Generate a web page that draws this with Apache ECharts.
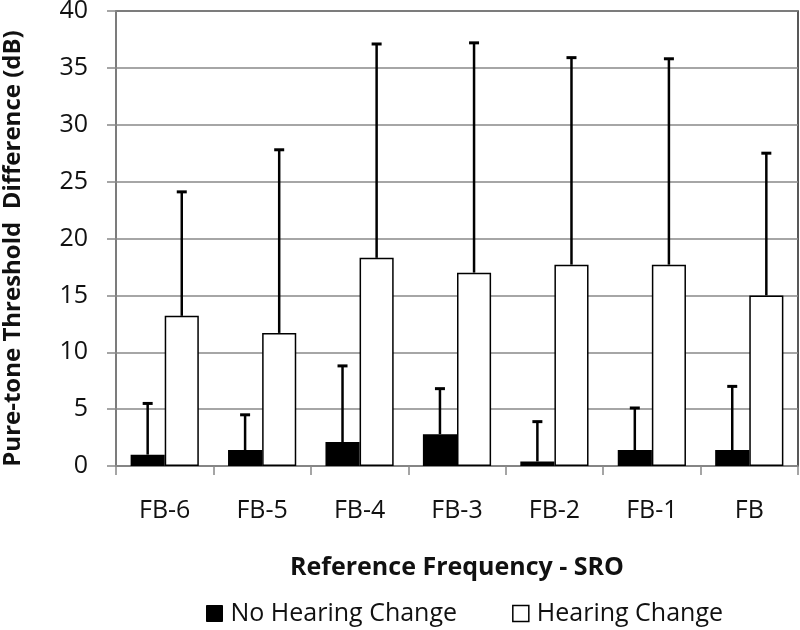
<!DOCTYPE html>
<html>
<head>
<meta charset="utf-8">
<script src="https://cdn.jsdelivr.net/npm/echarts@6/dist/echarts.min.js"></script>
<style>html,body{margin:0;padding:0;background:#fff}#c{width:800px;height:630px}</style>
</head>
<body>
<div id="c"></div>
<script>
const categories = ['FB-6','FB-5','FB-4','FB-3','FB-2','FB-1','FB'];
const noChange = [1.0, 1.4, 2.1, 2.8, 0.4, 1.4, 1.4];
const noChangeErrTop = [5.5, 4.5, 8.8, 6.8, 3.9, 5.1, 7.0];
const change = [13.2, 11.7, 18.3, 17.0, 17.7, 17.7, 15.0];
const changeErrTop = [24.1, 27.8, 37.1, 37.2, 35.9, 35.8, 27.5];
const yTicks = [0,5,10,15,20,25,30,35,40];

const FONT = '"Open Sans"';
const chart = echarts.init(document.getElementById('c'));

function errSeries(name, vals, tops, side) {
  return {
    type: 'custom',
    name: name + ' err',
    z: 5,
    silent: true,
    data: vals.map((v, i) => [i, v, tops[i]]),
    renderItem: function (params, api) {
      const i = api.value(0);
      const catW = api.size([1, 0])[0];
      const off = side * 0.175 * catW;
      const p0 = api.coord([i, api.value(1)]);
      const p1 = api.coord([i, api.value(2)]);
      const x = p0[0] + off;
      const capHalf = 5;
      return {
        type: 'group',
        children: [
          { type: 'line', shape: { x1: x, y1: p0[1], x2: x, y2: p1[1] }, style: { stroke: '#000', lineWidth: 2.5 } },
          { type: 'line', shape: { x1: x - capHalf, y1: p1[1], x2: x + capHalf, y2: p1[1] }, style: { stroke: '#000', lineWidth: 3 } }
        ]
      };
    }
  };
}

chart.setOption({
  animation: false,
  backgroundColor: '#fff',
  grid: { left: 116, right: 2, top: 11, bottom: 164, show: true, borderColor: '#222', borderWidth: 1.5,
    containLabel: false, outerBoundsMode: 'none' },
  xAxis: {
    type: 'category',
    data: categories,
    axisLine: { lineStyle: { color: '#888', width: 1.5 } },
    axisTick: { show: true, length: 9, lineStyle: { color: '#888', width: 1.5 } },
    axisLabel: { fontFamily: FONT, fontSize: 25, color: '#111', margin: 32 },
    name: 'Reference Frequency - SRO',
    nameLocation: 'middle',
    nameGap: 89,
    nameTextStyle: { fontFamily: FONT, fontSize: 25, fontWeight: 'bold', color: '#111' }
  },
  yAxis: {
    type: 'value',
    min: 0, max: 40, interval: 5,
    axisLine: { show: true, lineStyle: { color: '#888', width: 1.5 } },
    axisTick: { show: true, length: 9, lineStyle: { color: '#888', width: 1.5 } },
    splitLine: { lineStyle: { color: '#888', width: 1.5 } },
    axisLabel: { fontFamily: FONT, fontSize: 25, color: '#111', margin: 28,
      formatter: v => yTicks.includes(v) ? String(v) : '' },
    name: 'Pure-tone Threshold  Difference (dB)',
    nameLocation: 'middle',
    nameGap: 91,
    nameTextStyle: { fontFamily: FONT, fontSize: 24, fontWeight: 'bold', color: '#111', padding: [0, 20, 0, 0] }
  },
  legend: {
    top: 601,
    left: 206,
    padding: 0,
    itemGap: 55,
    itemWidth: 16,
    itemHeight: 16,
    textStyle: { fontFamily: FONT, fontSize: 25, color: '#111', padding: [0, 0, 0, 3] },
    data: [
      { name: 'No Hearing Change', icon: 'rect', itemStyle: { color: '#000', borderColor: '#000', borderWidth: 1 } },
      { name: 'Hearing Change', icon: 'rect', itemStyle: { color: '#fff', borderColor: '#000', borderWidth: 1.5 } }
    ]
  },
  series: [
    { type: 'bar', name: 'No Hearing Change', data: noChange, barGap: '0%', barCategoryGap: '30%',
      itemStyle: { color: '#000', borderColor: '#000', borderWidth: 1.5 }, z: 3 },
    { type: 'bar', name: 'Hearing Change', data: change, barGap: '0%', barCategoryGap: '30%',
      itemStyle: { color: '#fff', borderColor: '#000', borderWidth: 1.5 }, z: 3 },
    errSeries('No Hearing Change', noChange, noChangeErrTop, -1),
    errSeries('Hearing Change', change, changeErrTop, 1)
  ]
});
</script>
</body>
</html>
